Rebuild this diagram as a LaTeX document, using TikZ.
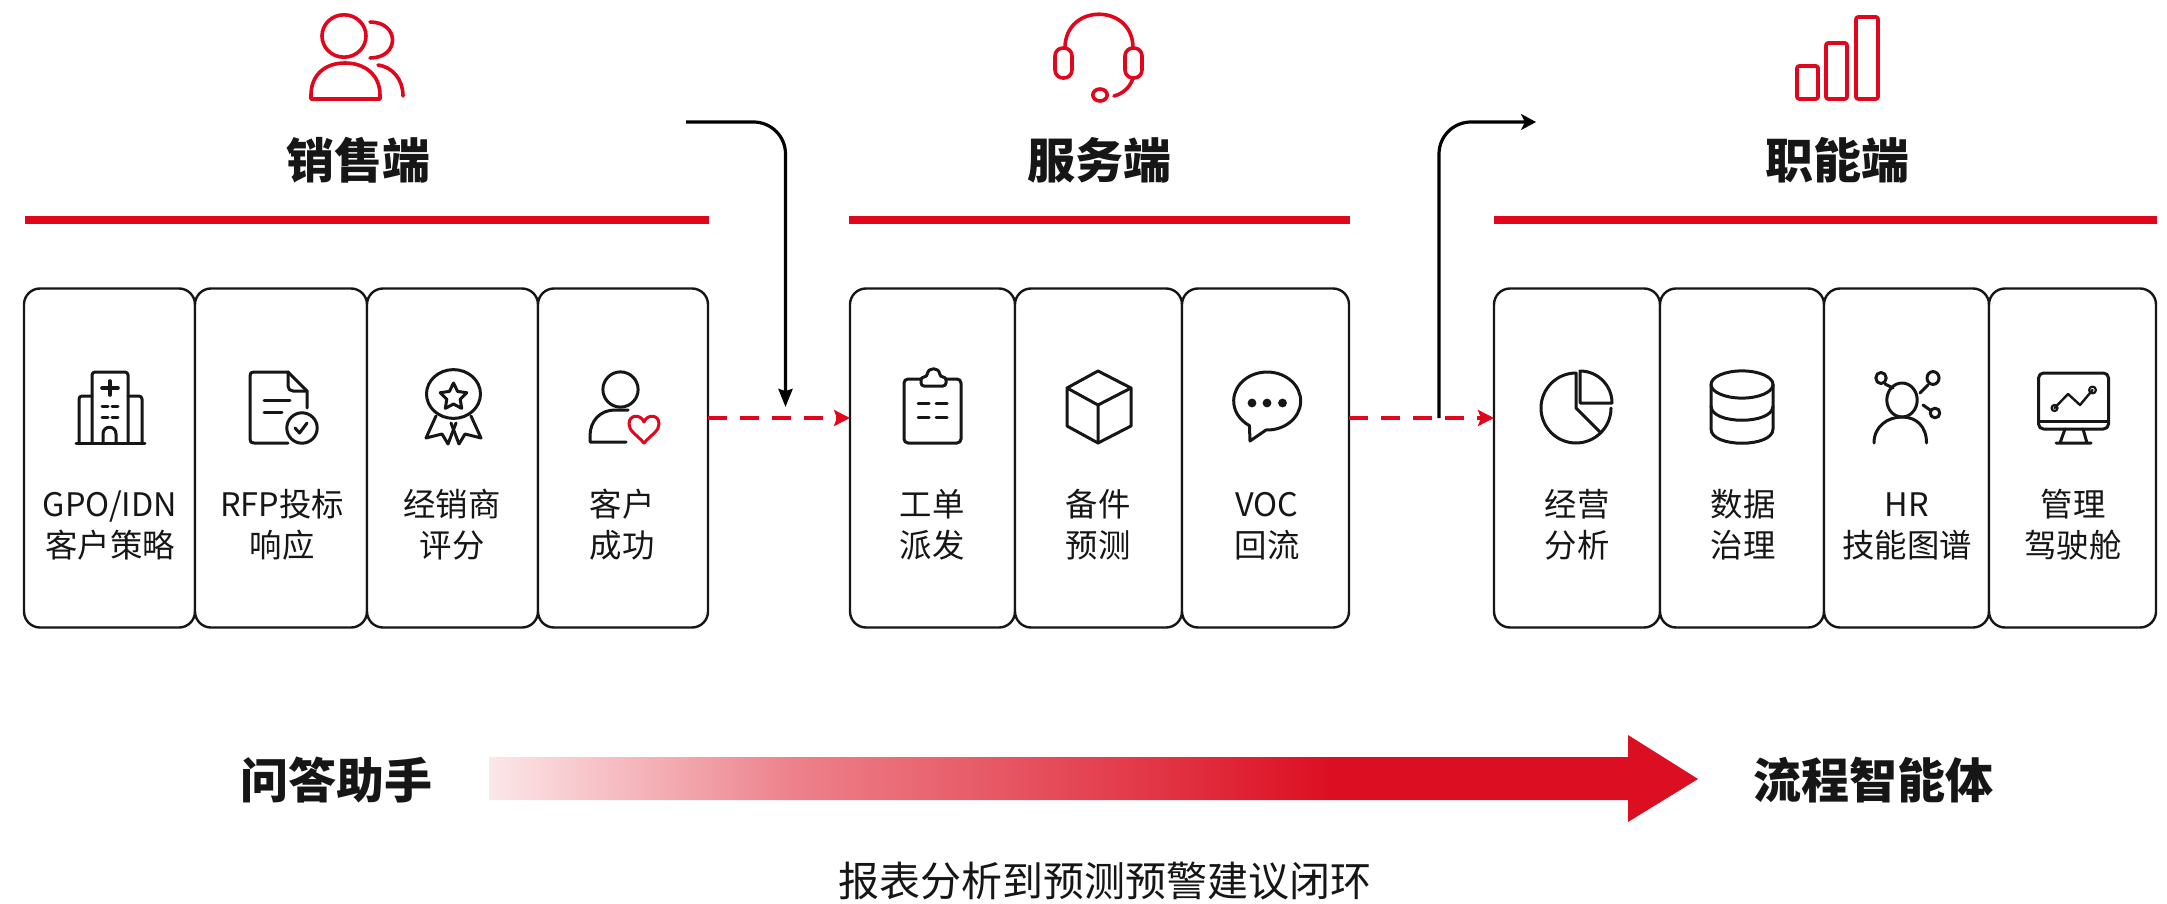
\documentclass[tikz,border=0pt]{standalone}
\usepackage{fontspec}
\setmainfont{Noto Sans CJK SC}
\usetikzlibrary{arrows.meta}
\definecolor{brandred}{HTML}{E2061C}
\definecolor{deepred}{HTML}{DC0E21}
\definecolor{ink}{HTML}{161616}
\pgfdeclarehorizontalshading{redfade}{100bp}{
  color(0bp)=(deepred!10!white);
  color(25bp)=(deepred!10!white);
  color(37.5bp)=(deepred!52!white);
  color(47.2bp)=(deepred!72!white);
  color(60bp)=(deepred);
  color(100bp)=(deepred)}
\tikzset{
  cellbox/.style={draw=ink,line width=1.2pt,rounded corners=8pt,inner sep=0pt,outer sep=0pt,minimum height=169.5pt,fill=white},
  celllabel/.style={font=\fontsize{16.2pt}{20.7pt}\selectfont,text=ink,align=center,inner sep=0pt},
  headline/.style={font=\fontsize{24pt}{28pt}\selectfont\bfseries,text=ink,inner sep=0pt},
  redrule/.style={draw=brandred,line width=4pt},
  ricon/.style={draw=brandred,line width=1.8pt,line join=round,line cap=round},
  kicon/.style={draw=ink,line width=1.5pt,line join=round,line cap=round},
  flowred/.style={draw=brandred,line width=1.8pt,dash pattern=on 9.5pt off 6.5pt,-{Stealth[length=8pt,width=8pt,inset=1.5pt]}},
  flowblack/.style={draw=black,line width=1.6pt,rounded corners=16pt},
}
\newcommand\cellnode[3]{%
  \pgfmathsetmacro\cellw{(#3-#2)*0.5}%
  \pgfmathsetmacro\cellx{(#2+#3)/2}%
  \node[cellbox,minimum width=\cellw pt] (#1) at (\cellx,458) {};}
\newcommand\twolines[2]{\strut #1\\\strut #2}
\begin{document}
\begin{tikzpicture}[x=0.5pt,y=-0.5pt]
\useasboundingbox[fill=white] (0,0) rectangle (2167,904);

% ---- headers
\node[headline] (hs) at (358,160) {销售端};
\node[headline] (hr) at (1099.5,160) {服务端};
\node[headline] (hf) at (1837,160) {职能端};
\draw[redrule] (24.5,220) -- (709,220);
\draw[redrule] (849,220) -- (1350,220);
\draw[redrule] (1493.5,220) -- (2156.5,220);

% ---- people icon
\draw[ricon] (344,36) ellipse[x radius=11pt,y radius=10.6pt];
\draw[ricon] (370,22) .. controls (400,22) and (400,58) .. (370,58);
\draw[ricon] (311,99) -- (311,95) .. controls (311,75) and (325,63) .. (345,63) .. controls (365,63) and (380,75) .. (380,95) -- (380,99) -- cycle;
\draw[ricon] (378,65) .. controls (393,67) and (403,80) .. (403,96);
% ---- headset icon
\draw[ricon] (1065,48) .. controls (1065,3) and (1133,3) .. (1133,48);
\draw[ricon,rounded corners=4pt] (1055,48) rectangle (1072,78);
\draw[ricon,rounded corners=4pt] (1125,48) rectangle (1142,78);
\draw[ricon] (1133,78) .. controls (1130,88) and (1122,94) .. (1114,96);
\draw[ricon] (1100,95) ellipse[x radius=3.6pt,y radius=3pt];
% ---- bars icon
\draw[ricon,rounded corners=1pt] (1797,66) rectangle (1818,99);
\draw[ricon,rounded corners=1pt] (1826,43) rectangle (1847,99);
\draw[ricon,rounded corners=1pt] (1856,17) rectangle (1878,99);

% ---- cells
\cellnode{s1}{24}{195}
\cellnode{s2}{195}{367}
\cellnode{s3}{367}{538}
\cellnode{s4}{538}{708}
\cellnode{r1}{850}{1015}
\cellnode{r2}{1015}{1182}
\cellnode{r3}{1182}{1349}
\cellnode{f1}{1494}{1660}
\cellnode{f2}{1660}{1824}
\cellnode{f3}{1824}{1989}
\cellnode{f4}{1989}{2156}

% ---- cell labels
\node[celllabel] (ls1) at (110,528.5) {\twolines{GPO/IDN}{客户策略}};
\node[celllabel] (ls2) at (282,528.5) {\twolines{RFP投标}{响应}};
\node[celllabel] (ls3) at (452,528.5) {\twolines{经销商}{评分}};
\node[celllabel] (ls4) at (622,528.5) {\twolines{客户}{成功}};
\node[celllabel] (lr1) at (932,528.5) {\twolines{工单}{派发}};
\node[celllabel] (lr2) at (1098,528.5) {\twolines{备件}{预测}};
\node[celllabel] (lr3) at (1267,528.5) {\twolines{VOC}{回流}};
\node[celllabel] (lf1) at (1577,528.5) {\twolines{经营}{分析}};
\node[celllabel] (lf2) at (1743,528.5) {\twolines{数据}{治理}};
\node[celllabel] (lf3) at (1907,528.5) {\twolines{HR}{技能图谱}};
\node[celllabel] (lf4) at (2073,528.5) {\twolines{管理}{驾驶舱}};

% ---- building
\draw[kicon] (76,443) -- (145,443);
\draw[kicon,rounded corners=1.5pt] (92,443) -- (92,372) -- (128,372) -- (128,443);
\draw[kicon,rounded corners=1.5pt] (79,443) -- (79,396) -- (92,396);
\draw[kicon,rounded corners=1.5pt] (128,396) -- (142,396) -- (142,443);
\draw[kicon,line width=1.8pt] (102,388) -- (118,388) (110,381) -- (110,395);
\draw[kicon] (102,406) -- (108,406) (112,406) -- (118,406);
\draw[kicon] (102,417) -- (108,417) (112,417) -- (118,417);
\draw[kicon] (103,443) -- (103,434) .. controls (103,425) and (116,425) .. (116,434) -- (116,443);
% ---- document + check
\draw[kicon] (288,443) -- (254,443) .. controls (251,443) and (250,442) .. (250,439) -- (250,376) .. controls (250,373) and (251,372) .. (254,372) -- (288,372) -- (307,391) -- (307,408);
\draw[kicon] (288,372) -- (288,386) .. controls (288,389) and (290,391) .. (293,391) -- (307,391);
\draw[kicon] (264,400) -- (290,400) (264,412) -- (282,412);
\draw[kicon] (302,428) circle[radius=7.6pt];
\draw[kicon] (295,428) -- (299.5,433) -- (307,423);
% ---- medal
\draw[kicon] (453.5,394) ellipse[x radius=13.5pt,y radius=12.2pt];
\draw[kicon] (453.5,383) -- (457.6,391.4) -- (466.8,392.7) -- (460.2,399.2) -- (461.7,408.4) -- (453.5,404) -- (445.3,408.4) -- (446.8,399.2) -- (440.2,392.7) -- (449.4,391.4) -- cycle;
\draw[kicon] (436,416) -- (426,438) -- (442,434) -- (448,444) -- (456,423);
\draw[kicon] (471,416) -- (481,438) -- (465,434) -- (459,444) -- (451,423);
% ---- person + heart
\draw[kicon] (620.5,389.5) ellipse[x radius=8.8pt,y radius=8.8pt];
\draw[kicon] (626,442) -- (590,442) -- (590,436) .. controls (590,421) and (600,410) .. (615,410) -- (628,410);
\draw[ricon,line width=1.5pt] (644,443) .. controls (636,434) and (629,431) .. (629,424) .. controls (629,414) and (641,414) .. (644,422) .. controls (647,414) and (659,414) .. (659,424) .. controls (659,431) and (652,434) .. (644,443) -- cycle;
% ---- clipboard
\draw[kicon,rounded corners=2pt] (921,379) -- (904,379) -- (904,443) -- (961,443) -- (961,379) -- (946,379);
\draw[kicon,rounded corners=1.5pt] (921,386) -- (921,377) -- (927,377) .. controls (928,367) and (939,367) .. (940,377) -- (946,377) -- (946,386) -- cycle;
\draw[kicon] (918,403) -- (929,403) (936,403) -- (947,403);
\draw[kicon] (918,417) -- (929,417) (936,417) -- (947,417);
% ---- cube
\draw[kicon] (1098,371) -- (1131,388) -- (1131,426) -- (1098,443) -- (1067,426) -- (1067,388) -- cycle;
\draw[kicon] (1067,388) -- (1098,405) -- (1131,388) (1098,405) -- (1098,443);
% ---- speech bubble
\draw[kicon] (1266,430) arc[start angle=268,end angle=598,x radius=16.75pt,y radius=14.5pt] -- (1250,441) -- cycle;
\fill[ink] (1252,403) circle[radius=2.2pt] (1267,403) circle[radius=2.2pt] (1282.5,403) circle[radius=2.2pt];
% ---- pie
\draw[kicon] (1576,373) arc[start angle=90,end angle=360,radius=17.5pt];
\draw[kicon] (1576,373) -- (1576,408) -- (1601,433);
\draw[kicon] (1580,403) -- (1580,371) arc[start angle=90,end angle=0,radius=16pt] -- cycle;
% ---- database
\draw[kicon] (1742,384.5) ellipse[x radius=15.5pt,y radius=6.8pt];
\draw[kicon] (1711,384.5) -- (1711,429) .. controls (1711,448) and (1773,448) .. (1773,429) -- (1773,384.5);
\draw[kicon] (1711,406) .. controls (1711,425) and (1773,425) .. (1773,406);
% ---- HR network
\draw[kicon] (1902,400) ellipse[x radius=7.6pt,y radius=8.5pt];
\draw[kicon] (1874,443) .. controls (1874,426) and (1888,417) .. (1902,417) .. controls (1916,417) and (1926.5,426) .. (1926.5,443);
\draw[kicon] (1881,378) ellipse[x radius=2.6pt,y radius=2.8pt];
\draw[kicon] (1933,378) ellipse[x radius=3pt,y radius=3.2pt];
\draw[kicon] (1935,413) ellipse[x radius=2.4pt,y radius=2.4pt];
\draw[kicon] (1885,384) -- (1893,388);
\draw[kicon] (1928,385) -- (1920,393);
\draw[kicon] (1923,405) -- (1930,410);
% ---- monitor
\draw[kicon,rounded corners=2.5pt] (2038.5,373) rectangle (2108.5,429);
\draw[kicon] (2038.5,421) -- (2108.5,421);
\draw[kicon] (2065,429) -- (2060,443) (2083,429) -- (2087,443) (2056,443) -- (2091,443);
\draw[kicon,line width=1.2pt] (2054.5,408) -- (2068,394) -- (2080,405) -- (2092.5,390);
\draw[kicon,line width=1.1pt] (2054.5,408) circle[radius=1.5pt] (2092.5,390) circle[radius=1.7pt];

% ---- connectors
\coordinate (flowy) at (0,418);
\coordinate (curveA) at (686,122);
\coordinate (dropA) at (785.5,407);
\coordinate (forkB) at (1439,418);
\coordinate (tipB) at (1536,122);
\draw[flowred] (s4.east |- flowy) -- (r1.west |- flowy);
\draw[flowred] (r3.east |- flowy) -- (f1.west |- flowy);
\draw[flowblack,-{Stealth[length=9pt,width=7pt,inset=1pt]}] (curveA) -| (dropA);
\draw[flowblack,-{Stealth[length=7.5pt,width=8pt,inset=2pt]}] (forkB) |- (tipB);

% ---- bottom band
\node[headline] (qa) at (336,780.5) {问答助手};
\node[headline] (agent) at (1873,780.5) {流程智能体};
\shade[shading=redfade] (489,757) -- (1628,757) -- (1628,735) -- (1698,779) -- (1628,822) -- (1628,800) -- (489,800) -- cycle;
\node[inner sep=0pt,text=ink,font=\fontsize{20.5pt}{24pt}\selectfont] (note) at (1105,881) {报表分析到预测预警建议闭环};
\end{tikzpicture}
\end{document}
